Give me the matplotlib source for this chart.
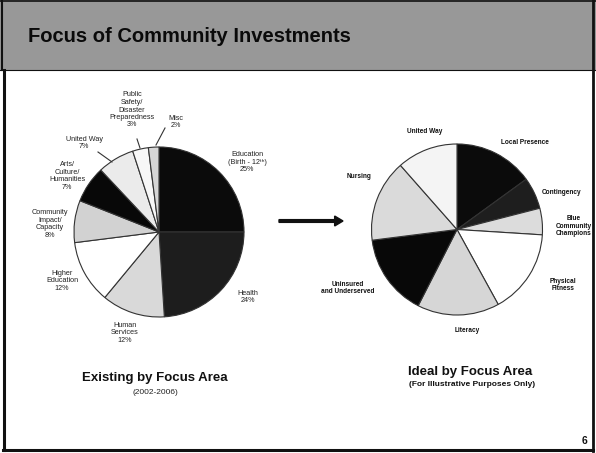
import matplotlib
matplotlib.use("Agg")
import matplotlib.pyplot as plt
from matplotlib.patches import Rectangle, FancyArrow
from matplotlib.lines import Line2D

plt.rcParams['font.family'] = ['Liberation Sans', 'DejaVu Sans']

W, H = 596, 453

# ---------------- data ----------------
title = "Focus of Community Investments"

left_labels = ["Education\n(Birth - 12ᵗʰ)\n25%", "Health\n24%", "Human\nServices\n12%",
               "Higher\nEducation\n12%", "Community\nImpact/\nCapacity\n8%",
               "Arts/\nCulture/\nHumanities\n7%", "United Way\n7%",
               "Public\nSafety/\nDisaster\nPreparedness\n3%", "Misc\n2%"]
left_values = [25, 24, 12, 12, 8, 7, 7, 3, 2]

right_labels = ["Local Presence", "Contingency", "Blue\nCommunity\nChampions",
                "Physical\nFitness", "Literacy", "Uninsured\nand Underserved",
                "Nursing", "United Way"]
right_values = [15, 6, 5, 16, 15.5, 15.5, 15.5, 11.5]

left_caption = "Existing by Focus Area"
left_sub = "(2002-2006)"
right_caption = "Ideal by Focus Area"
right_sub = "(For Illustrative Purposes Only)"
page_no = "6"

# ---------------- styles ----------------
left_colors = ['#0b0b0b', '#1d1d1d', '#d9d9d9', '#ffffff', '#d2d2d2',
               '#080808', '#ebebeb', '#f7f7f7', '#d6d6d6']
right_colors = ['#0b0b0b', '#1e1e1e', '#dcdcdc', '#ffffff', '#d6d6d6',
                '#080808', '#dadada', '#f4f4f4']

left_label_pos = [(247, 162), (248, 297), (125, 333), (62, 281), (50, 224),
                  (67, 176), (84, 143), (132, 110), (176, 122)]
right_label_pos = [(525, 142), (562, 192), (574, 226), (563, 285), (467, 330),
                   (348, 288), (359, 176), (425, 132)]

fig = plt.figure(figsize=(W / 100, H / 100), dpi=100)
fig.patch.set_facecolor('white')


def fx(x):
    return x / W


def fy(y):
    return 1 - y / H


# header band
fig.patches.append(Rectangle((0, fy(70)), 1, 70 / H, transform=fig.transFigure,
                             facecolor='#989898', edgecolor='none', zorder=0))
fig.text(fx(28), fy(37), title, fontsize=14.5, fontweight='bold', color='#0a0a0a',
         va='center', ha='left')

# frame lines
for (x0, y0, x1, y1, lw) in [(4, 70, 4, 450, 2.2), (3, 450, 593, 450, 2.2),
                             (593, 0, 593, 451, 2.0), (0, 70, 596, 70, 0.8),
                             (1.5, 0, 1.5, 70, 1.5), (0, 1, 596, 1, 1.2)]:
    fig.lines.append(Line2D([fx(x0), fx(x1)], [fy(y0), fy(y1)], transform=fig.transFigure,
                            color='#111111', lw=lw))


def pie_axes(cx, cy, r):
    ax = fig.add_axes([fx(cx - r), fy(cy + r), 2 * r / W, 2 * r / H])
    ax.axis('off')
    return ax


axL = pie_axes(159, 232, 85)
axL.pie(left_values, colors=left_colors, startangle=90, counterclock=False, radius=1,
        wedgeprops=dict(edgecolor='#333333', linewidth=0.8))
axL.set_xlim(-1, 1); axL.set_ylim(-1, 1)

axR = pie_axes(457, 229.5, 85.5)
axR.pie(right_values, colors=right_colors, startangle=90, counterclock=False, radius=1,
        wedgeprops=dict(edgecolor='#333333', linewidth=0.8))
axR.set_xlim(-1, 1); axR.set_ylim(-1, 1)

for lab, (x, y) in zip(left_labels, left_label_pos):
    fig.text(fx(x), fy(y), lab, fontsize=5.2, ha='center', va='center', color='#222222',
             linespacing=1.1)
for lab, (x, y) in zip(right_labels, right_label_pos):
    fig.text(fx(x), fy(y), lab, fontsize=4.7, ha='center', va='center', color='#111111',
             fontweight='bold', linespacing=1.1)

# leader lines (left pie)
for (x0, y0, x1, y1) in [(98, 152, 112, 162), (137, 139, 140, 148), (165, 128, 156, 145)]:
    fig.lines.append(Line2D([fx(x0), fx(x1)], [fy(y0), fy(y1)], transform=fig.transFigure,
                            color='#333333', lw=0.8))

# arrow
fig.patches.append(FancyArrow(fx(279), fy(221), fx(343) - fx(279), 0, width=0.006,
                              head_width=0.022, head_length=0.014, length_includes_head=True,
                              transform=fig.transFigure, color='#111111'))

fig.text(fx(155), fy(378), left_caption, fontsize=9.5, fontweight='bold', ha='center',
         va='center', color='#111111')
fig.text(fx(155), fy(392), left_sub, fontsize=6.0, ha='center', va='center', color='#222222')
fig.text(fx(470), fy(372), right_caption, fontsize=9.5, fontweight='bold', ha='center',
         va='center', color='#111111')
fig.text(fx(472), fy(384), right_sub, fontsize=6.0, fontweight='bold', ha='center',
         va='center', color='#111111')
fig.text(fx(584), fy(441), page_no, fontsize=7.5, fontweight='bold', ha='center',
         va='center', color='#111111')

fig.savefig('out.png', dpi=100)
